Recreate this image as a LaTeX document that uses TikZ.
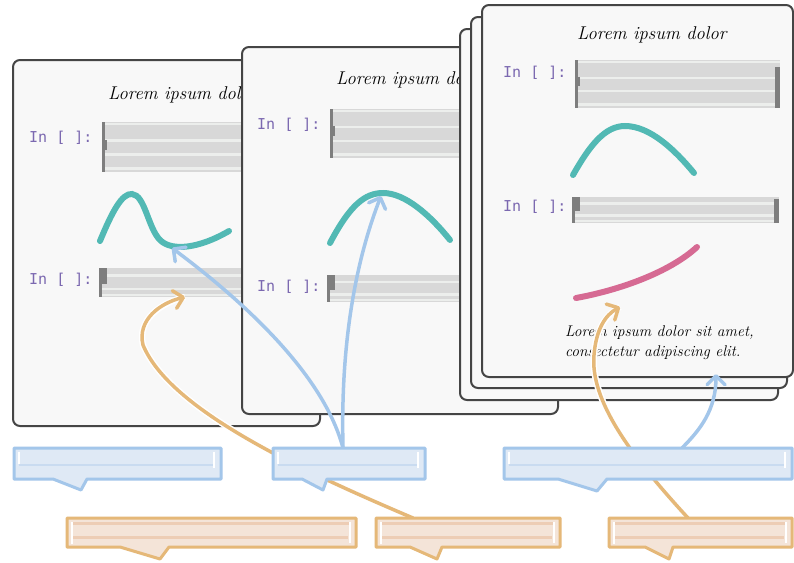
\documentclass[tikz,border=0pt]{standalone}
\usepackage{fontspec}
\newfontfamily\monof{DejaVu Sans Mono}
\usetikzlibrary{arrows.meta}
\definecolor{nbfill}{HTML}{F8F8F8}
\definecolor{nbline}{HTML}{454545}
\definecolor{barg}{HTML}{D8D8D8}
\definecolor{barl}{HTML}{ECEEEC}
\definecolor{bard}{HTML}{7E7E7E}
\definecolor{inpurple}{HTML}{7B68B0}
\definecolor{tealc}{HTML}{52B9B4}
\definecolor{pinkc}{HTML}{D66A93}
\definecolor{bstroke}{HTML}{A3C6EA}
\definecolor{bfill}{HTML}{DFE9F5}
\definecolor{bstripe}{HTML}{C9DBF0}
\definecolor{ostroke}{HTML}{E5B878}
\definecolor{ofill}{HTML}{F4E4D8}
\definecolor{ostripe}{HTML}{EDCDB5}
\tikzset{
  notebook/.style={draw=nbline,fill=nbfill,line width=2pt,rounded corners=7pt},
  nbtitle/.style={anchor=west,font=\fontsize{18.5}{22}\selectfont\itshape,inner sep=0pt},
  nbtext/.style={anchor=west,font=\fontsize{15.5}{18}\selectfont\itshape,inner sep=0pt},
  inlabel/.style={anchor=west,font=\monof\fontsize{15}{17}\selectfont,text=inpurple,inner sep=0pt},
  plotline/.style={line width=6pt,line cap=round},
  bluearrow/.style={draw=bstroke,line width=3.5pt,line cap=round,-{Straight Barb[length=9pt,width=18pt,round]}},
  orangearrow/.style={draw=ostroke,line width=3.5pt,line cap=round,-{Straight Barb[length=9pt,width=18pt,round]},
    preaction={draw=white,line width=6.5pt,-}},
  bluebubble/.style={draw=bstroke,fill=bfill,line width=3pt,line join=round},
  orangebubble/.style={draw=ostroke,fill=ofill,line width=3pt,line join=round},
}
% tall cell bar
\newcommand\tallbar[4]{%
  \fill[barg] (#1,#2) rectangle (#3,#4);
  \foreach \f in {0.04,0.37,0.65,0.93}
    \draw[barl,line width=2.5pt] (#1+3,{#2+\f*(#4-#2)}) -- (#3,{#2+\f*(#4-#2)});
  \fill[bard] (#1,#2) rectangle (#1+3,#4);
  \fill[bard] (#1+3,{#2+0.35*(#4-#2)}) rectangle (#1+5,{#2+0.55*(#4-#2)});
}
% short cell bar
\newcommand\shortbar[4]{%
  \fill[barg] (#1,#2) rectangle (#3,#4);
  \foreach \f in {0.25,0.72,0.93}
    \draw[barl,line width=2.5pt] (#1+3,{#2+\f*(#4-#2)}) -- (#3,{#2+\f*(#4-#2)});
  \fill[bard] (#1,#2) rectangle (#1+3,#4);
  \fill[bard] (#1,#2) rectangle (#1+8,{#2+0.55*(#4-#2)});
}
% speech bubble: style, l, t, r, b, tail-left x, tip x, tip y, tail-right x
\newcommand\speech[9]{%
  \draw[#1] (#2,#3) -- (#4,#3) -- (#4,#5) -- (#9,#5) -- (#7,#8) -- (#6,#5) -- (#2,#5) -- cycle;
}
\newcommand\bluestripes[4]{%
  \draw[bstripe,line width=2.5pt] (#1+5,{#2+0.55*(#4-#2)}) -- (#3-8,{#2+0.55*(#4-#2)});
  \draw[white,line width=2pt] (#1+5,#2+4) -- (#1+5,{#2+0.5*(#4-#2)});
  \draw[white,line width=2pt] (#3-7,#2+4) -- (#3-7,{#2+0.65*(#4-#2)});
}
\newcommand\orangestripes[4]{%
  \draw[ostripe,line width=3pt] (#1+6,{#2+0.2*(#4-#2)}) -- (#3-6,{#2+0.2*(#4-#2)});
  \draw[ostripe,line width=2.5pt] (#1+6,{#2+0.67*(#4-#2)}) -- (#3-8,{#2+0.67*(#4-#2)});
  \draw[white,line width=2pt] (#1+5,#2+4) -- (#1+5,#4-3);
  \draw[white,line width=2pt] (#3-6,#2+4) -- (#3-6,#4-4);
}
\begin{document}
\begin{tikzpicture}[x=1pt,y=-1pt]
\useasboundingbox (0,0) rectangle (794,562);
\fill[white] (0,0) rectangle (794,562);

% ---------- notebook 1 ----------
\draw[notebook] (13,60) rectangle (320,426);
\node[nbtitle] (t1) at (108,95) {Lorem ipsum dolor};
\node[inlabel] (in11) at (29,138) {In [ ]:};
\tallbar{102}{122}{300}{172}
\draw[plotline,tealc] (100,241) .. controls (112,212) and (122,193) .. (132,194)
  .. controls (145,195) and (148,228) .. (160,240) .. controls (172,252) and (200,248) .. (229,231);
\node[inlabel] (in12) at (29,280) {In [ ]:};
\shortbar{99}{268}{300}{297}

% ---------- notebook 2 ----------
\draw[notebook] (242,47) rectangle (558,414);
\node[nbtitle] (t2) at (336,80) {Lorem ipsum dolor};
\node[inlabel] (in21) at (257,125) {In [ ]:};
\tallbar{330}{109}{520}{158}
\draw[plotline,tealc] (330,243) .. controls (350,205) and (365,193) .. (383,193)
  .. controls (405,193) and (430,215) .. (450,240);
\node[inlabel] (in22) at (257,287) {In [ ]:};
\shortbar{327}{275}{520}{302}

% ---------- notebook 3 (stack) ----------
\draw[notebook] (460,29) rectangle (778,400);
\draw[notebook] (471,17) rectangle (787,388);
\draw[notebook] (482,5) rectangle (793,377);
\node[nbtitle] (t3) at (577,35) {Lorem ipsum dolor};
\node[inlabel] (in31) at (503,73) {In [ ]:};
\tallbar{575}{60}{780}{108}
\fill[bard] (775,67) rectangle (780,108);
\draw[plotline,tealc] (573,175) .. controls (590,145) and (605,126) .. (625,126)
  .. controls (650,126) and (675,150) .. (694,173);
\node[inlabel] (in32) at (503,207) {In [ ]:};
\shortbar{572}{197}{779}{223}
\fill[bard] (774,199) rectangle (779,223);
\draw[plotline,pinkc] (576,298) .. controls (620,290) and (670,272) .. (697,247);
\node[nbtext] (txt1) at (565,333) {Lorem ipsum dolor sit amet,};
\node[nbtext] (txt2) at (565,353) {consectetur adipiscing elit.};

% ---------- connector end points ----------
\coordinate (b2top) at (343,448);
\coordinate (b3top) at (682,448);
\coordinate (o2top) at (413,518);
\coordinate (o3top) at (688,518);
\coordinate (wave1) at (172,248);
\coordinate (peak2) at (381,196);
\coordinate (txtbelow) at (716,374);
\coordinate (bar12) at (185,297);
\coordinate (pink3) at (620,307);

% ---------- arrows ----------
\draw[orangearrow] (o2top) .. controls (300,470) and (170,410) .. (143,345)
  .. controls (137,320) and (160,303) .. (bar12);
\draw[orangearrow] (o3top) .. controls (630,455) and (590,400) .. (594,355)
  .. controls (596,330) and (605,315) .. (pink3);
\draw[bluearrow] (b2top) .. controls (325,380) and (255,310) .. (wave1);
\draw[bluearrow] (b2top) .. controls (340,330) and (360,250) .. (peak2);
\draw[bluearrow] (b3top) .. controls (700,430) and (716,410) .. (txtbelow);

% ---------- speech bubbles ----------
\speech{bluebubble}{14}{448}{221}{479}{53}{81}{490}{87}
\bluestripes{14}{448}{221}{479}
\speech{bluebubble}{273}{448}{425}{479}{302}{323}{490}{327}
\bluestripes{273}{448}{425}{479}
\speech{bluebubble}{504}{448}{792}{479}{558}{597}{491}{607}
\bluestripes{504}{448}{792}{479}
\speech{orangebubble}{67}{518}{356}{547}{120}{160}{559}{169}
\orangestripes{67}{518}{356}{547}
\speech{orangebubble}{376}{518}{560}{547}{410}{437}{559}{442}
\orangestripes{376}{518}{560}{547}
\speech{orangebubble}{609}{518}{792}{547}{645}{669}{559}{673}
\orangestripes{609}{518}{792}{547}
\end{tikzpicture}
\end{document}
